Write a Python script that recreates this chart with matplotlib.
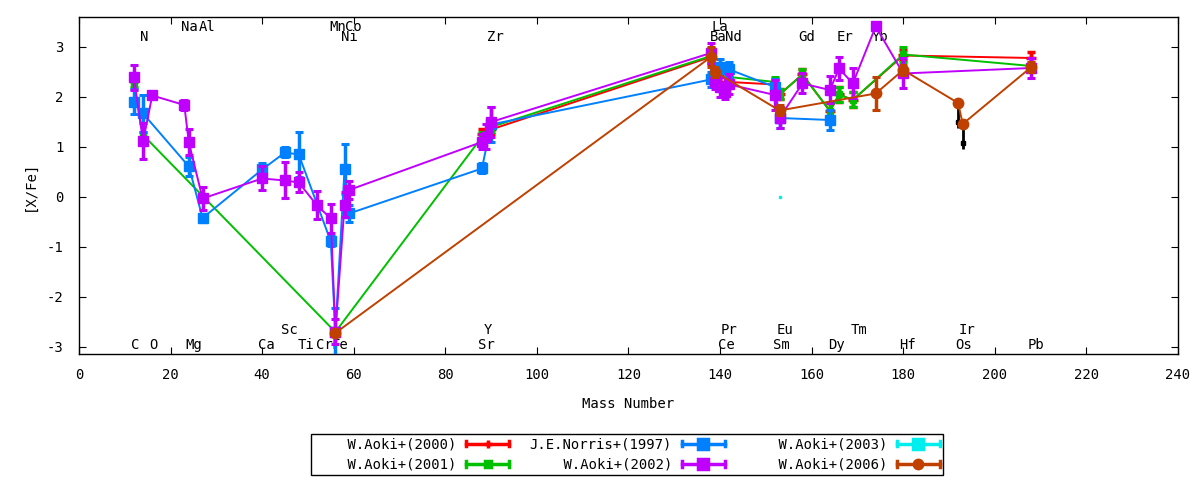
import matplotlib
matplotlib.use("Agg")
import matplotlib.pyplot as plt
from matplotlib.lines import Line2D
from matplotlib.legend_handler import HandlerBase

plt.rcParams['font.family'] = ['DejaVu Sans Mono', 'DejaVu Sans']
plt.rcParams['font.size'] = 10
plt.rcParams['axes.unicode_minus'] = False

# W.Aoki+(2000)
a2000_mass = [88, 90, 138, 140, 142, 152, 153, 158, 164, 166, 169, 180, 208]
a2000_val = [1.25, 1.35, 2.8, 2.3, 2.3, 2.25, 2.05, 2.45, 1.72, 2.05, 1.94, 2.83, 2.78]
a2000_err = [0.1, 0.1, 0.15, 0.1, 0.1, 0.1, 0.1, 0.1, 0.15, 0.15, 0.15, 0.1, 0.12]

# W.Aoki+(2001)
a2001_mass = [12, 14, 56, 88, 90, 138, 140, 142, 152, 153, 158, 164, 166, 169, 180, 208]
a2001_val = [2.24, 1.24, -2.7, 1.2, 1.4, 2.82, 2.5, 2.4, 2.3, 2.05, 2.45, 1.72, 2.05, 1.94, 2.85, 2.62]
a2001_err = [0.05, 0.05, 0.05, 0.1, 0.1, 0.15, 0.1, 0.1, 0.1, 0.1, 0.1, 0.15, 0.15, 0.15, 0.15, 0.05]

# J.E.Norris+(1997)
n1997_mass = [12, 14, 24, 27, 40, 45, 48, 55, 56, 58, 59, 88, 90, 138, 139, 140, 142, 152, 153, 164]
n1997_val = [1.9, 1.67, 0.61, -0.42, 0.55, 0.89, 0.85, -0.89, -2.7, 0.56, -0.33, 0.57, 1.45,
             2.35, 2.45, 2.6, 2.55, 2.2, 1.58, 1.54]
n1997_err = [0.25, 0.37, 0.19, 0.08, 0.13, 0.1, 0.45, 0.1, 0.48, 0.5, 0.17, 0.1, 0.35,
             0.15, 0.15, 0.15, 0.15, 0.15, 0.2, 0.2]

# W.Aoki+(2002)
a2002_mass = [12, 14, 16, 23, 24, 27, 40, 45, 48, 52, 55, 56, 58, 59, 88, 89, 90,
              138, 139, 140, 141, 142, 152, 153, 158, 164, 166, 169, 174, 180, 208]
a2002_val = [2.39, 1.11, 2.03, 1.84, 1.09, -0.03, 0.37, 0.33, 0.29, -0.17, -0.43, -2.7, -0.16, 0.14,
             1.1, 1.2, 1.5, 2.88, 2.3, 2.2, 2.1, 2.25, 2.04, 1.58, 2.27, 2.14, 2.57, 2.27, 3.41, 2.47, 2.58]
a2002_err = [0.25, 0.36, 0.05, 0.1, 0.26, 0.23, 0.24, 0.36, 0.2, 0.28, 0.29, 0.25, 0.25, 0.18,
             0.15, 0.25, 0.3, 0.2, 0.15, 0.2, 0.15, 0.2, 0.3, 0.2, 0.2, 0.27, 0.23, 0.3, 0.05, 0.3, 0.2]

# W.Aoki+(2003)
a2003_mass = [153]
a2003_val = [0.0]

# W.Aoki+(2006)
a2006_mass = [56, 138, 139, 153, 174, 180, 192, 193, 208]
a2006_val = [-2.72, 2.8, 2.5, 1.73, 2.07, 2.54, 1.88, 1.46, 2.6]
a2006_err = [0.05, 0.2, 0.1, 0.1, 0.33, 0.1, 0.0, 0.0, 0.1]

# upper limits (black)
ul_mass = [192, 193]
ul_top = [1.88, 1.46]
ul_bottom = [1.38, 0.96]

# element labels
top_hi_names = ['Na', 'Al', 'Mn', 'Co', 'La']
top_hi_mass = [24.2, 28, 56.6, 60, 140]
top_lo_names = ['N', 'Ni', 'Zr', 'Ba', 'Nd', 'Gd', 'Er', 'Yb']
top_lo_mass = [14.2, 59, 91, 139.6, 143, 159, 167.3, 175]
bot_hi_names = ['Sc', 'Y', 'Pr', 'Eu', 'Tm', 'Ir']
bot_hi_mass = [46, 89.3, 142, 154.2, 170.4, 194]
bot_lo_names = ['C', 'O', 'Mg', 'Ca', 'Ti', 'Cr', 'Fe', 'Sr', 'Ce', 'Sm', 'Dy', 'Hf', 'Os', 'Pb']
bot_lo_mass = [12.2, 16.2, 25.1, 41, 49.6, 53.5, 57, 89, 141.3, 153.3, 165.4, 181, 193.1, 209]

RED = '#ff0000'
GREEN = '#00c000'
BLUE = '#0080ff'
PURPLE = '#c000ff'
CYAN = '#00eeee'
BROWN = '#c04000'

fig = plt.figure(figsize=(12, 4.8), dpi=100)
ax = fig.add_axes([0.0658, 0.2625, 0.9158, 0.7021])

for names, mass, yy in [(top_hi_names, top_hi_mass, 3.4), (top_lo_names, top_lo_mass, 3.2),
                        (bot_hi_names, bot_hi_mass, -2.66), (bot_lo_names, bot_lo_mass, -2.96)]:
    for n, m in zip(names, mass):
        ax.text(m, yy, n, ha='center', va='center', fontsize=10, zorder=1)

eb = dict(lw=1.4, elinewidth=2.5, capsize=3, capthick=2.2)
ax.errorbar(a2000_mass, a2000_val, yerr=a2000_err, color=RED, marker='+', ms=7, mew=2.5, zorder=2, **eb)
ax.errorbar(a2001_mass, a2001_val, yerr=a2001_err, color=GREEN, marker='s', ms=4.5, zorder=3, **eb)
ax.errorbar(n1997_mass, n1997_val, yerr=n1997_err, color=BLUE, marker='s', ms=6.5, zorder=4, **eb)
ax.errorbar(a2002_mass, a2002_val, yerr=a2002_err, color=PURPLE, marker='s', ms=7, zorder=5, **eb)
ax.plot(a2003_mass, a2003_val, color=CYAN, marker='s', ms=1.5, ls='none', zorder=6)
ax.vlines(ul_mass, ul_bottom, ul_top, color='black', lw=2, zorder=6.5)
ax.plot(ul_mass, [b + 0.12 for b in ul_bottom], 's', color='black', ms=2.5, zorder=6.5)
ax.errorbar(a2006_mass, a2006_val, yerr=a2006_err, color=BROWN, marker='o', ms=7.5, zorder=7, **eb)

ax.set_xlim(0, 240)
ax.set_ylim(-3.14, 3.6)
ax.set_xticks(range(0, 241, 20))
ax.set_yticks(range(-3, 4))
ax.tick_params(direction='in', length=5, top=True, right=True, labelsize=10)
ax.tick_params(axis='x', pad=10)
ax.tick_params(axis='y', pad=11)
for s in ax.spines.values():
    s.set_linewidth(1.0)
ax.set_xlabel('Mass Number', fontsize=10, labelpad=11)
ax.set_ylabel('[X/Fe]', fontsize=10, labelpad=7)


class KeySample(HandlerBase):
    def create_artists(self, legend, orig, xd, yd, width, height, fontsize, trans):
        c = orig.get_color()
        x0 = -xd
        x1 = -xd + width
        yc = -yd + height / 2
        h = height * 0.3
        arts = [Line2D([x0, x1], [yc, yc], color=c, lw=2.5),
                Line2D([x0, x0], [yc - h, yc + h], color=c, lw=2.5),
                Line2D([x1, x1], [yc - h, yc + h], color=c, lw=2.5),
                Line2D([(x0 + x1) / 2], [yc], color=c, marker=orig.get_marker(),
                       ms=orig.get_markersize(), mew=2.5, ls='none')]
        for a in arts:
            a.set_transform(trans)
        return arts


handles = [Line2D([], [], color=RED, marker='+', ms=6),
           Line2D([], [], color=GREEN, marker='s', ms=5),
           Line2D([], [], color=BLUE, marker='s', ms=6.5),
           Line2D([], [], color=PURPLE, marker='s', ms=6.5),
           Line2D([], [], color=CYAN, marker='s', ms=6.5),
           Line2D([], [], color=BROWN, marker='o', ms=6)]
labels = ['W.Aoki+(2000)', 'W.Aoki+(2001)', 'J.E.Norris+(1997)', 'W.Aoki+(2002)',
          'W.Aoki+(2003)', 'W.Aoki+(2006)']
width = max(len(s) for s in labels)
labels = [s.rjust(width) for s in labels]
leg = fig.legend(handles, labels, ncol=3, loc='center', bbox_to_anchor=(0.5226, 0.053),
                 markerfirst=False, handler_map={Line2D: KeySample()}, fontsize=10,
                 handlelength=3.1, columnspacing=1.45, handletextpad=0.7,
                 labelspacing=0.45, borderpad=0.25, fancybox=False, edgecolor='black',
                 framealpha=1)
leg.get_frame().set_linewidth(1.0)

fig.savefig('out.png', dpi=100)
